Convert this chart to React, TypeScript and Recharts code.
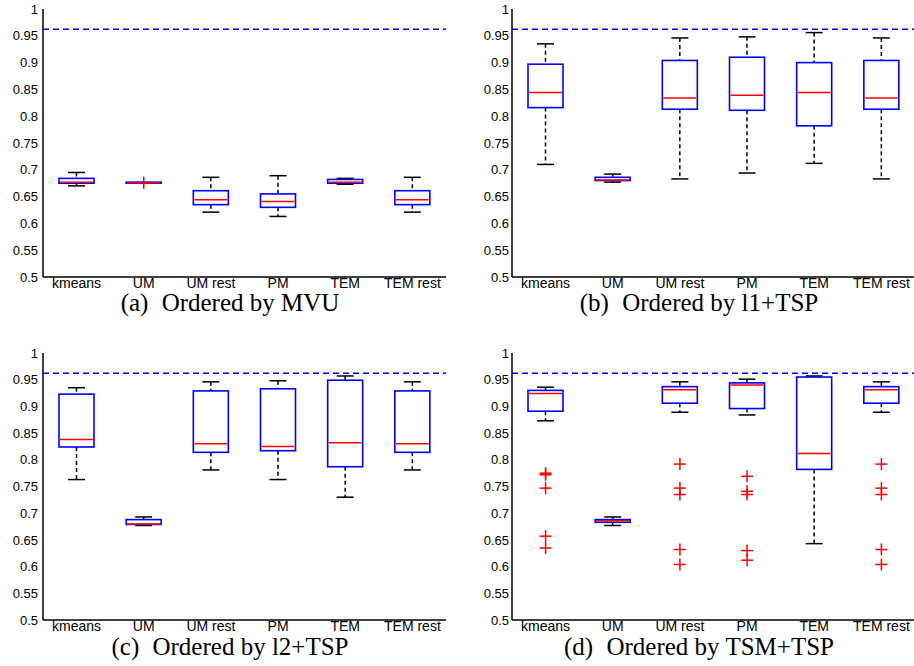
import { ComposedChart, Bar, Scatter, XAxis, YAxis, ReferenceLine } from 'recharts';

const categories = ['kmeans', 'UM', 'UM rest', 'PM', 'TEM', 'TEM rest'];
const yTicks = [0.5, 0.55, 0.6, 0.65, 0.7, 0.75, 0.8, 0.85, 0.9, 0.95, 1];
const reference = 0.962;

// (a) Ordered by MVU
const mvuLow = [0.670, 0.675, 0.621, 0.613, 0.673, 0.621];
const mvuQ1 = [0.675, 0.675, 0.635, 0.630, 0.675, 0.635];
const mvuMed = [0.677, 0.676, 0.644, 0.641, 0.677, 0.644];
const mvuQ3 = [0.684, 0.677, 0.661, 0.655, 0.682, 0.661];
const mvuHigh = [0.695, 0.677, 0.686, 0.689, 0.684, 0.686];
const mvuOutliers = [[], [0.676], [], [], [], []];

// (b) Ordered by l1+TSP
const l1Low = [0.710, 0.677, 0.683, 0.694, 0.712, 0.683];
const l1Q1 = [0.816, 0.680, 0.813, 0.811, 0.782, 0.813];
const l1Med = [0.844, 0.681, 0.834, 0.839, 0.844, 0.834];
const l1Q3 = [0.897, 0.686, 0.904, 0.910, 0.900, 0.904];
const l1High = [0.935, 0.692, 0.946, 0.948, 0.956, 0.946];
const l1Outliers = [[], [], [], [], [], []];

// (c) Ordered by l2+TSP
const l2Low = [0.763, 0.677, 0.781, 0.763, 0.730, 0.781];
const l2Q1 = [0.824, 0.679, 0.814, 0.817, 0.787, 0.814];
const l2Med = [0.838, 0.680, 0.830, 0.825, 0.832, 0.830];
const l2Q3 = [0.923, 0.688, 0.929, 0.933, 0.949, 0.929];
const l2High = [0.935, 0.693, 0.946, 0.948, 0.957, 0.946];
const l2Outliers = [[], [], [], [], [], []];

// (d) Ordered by TSM+TSP
const tsmLow = [0.873, 0.677, 0.889, 0.884, 0.643, 0.889];
const tsmQ1 = [0.891, 0.683, 0.906, 0.896, 0.782, 0.906];
const tsmMed = [0.924, 0.686, 0.931, 0.940, 0.812, 0.931];
const tsmQ3 = [0.930, 0.688, 0.937, 0.944, 0.955, 0.937];
const tsmHigh = [0.936, 0.693, 0.946, 0.951, 0.957, 0.946];
const tsmOutliers = [
  [0.775, 0.772, 0.747, 0.657, 0.635],
  [],
  [0.792, 0.747, 0.735, 0.632, 0.604],
  [0.769, 0.741, 0.735, 0.630, 0.612],
  [],
  [0.792, 0.747, 0.735, 0.632, 0.604],
];

const BLUE = '#0000ff';
const RED = '#ff0000';
const SLOTS = [0, 1, 2, 3, 4];

function buildRows(low: number[], q1: number[], med: number[], q3: number[], high: number[], outliers: number[][]) {
  return categories.map((name, i) => {
    const row: any = { name, low: low[i], q1: q1[i], med: med[i], q3: q3[i], high: high[i], range: [low[i], high[i]] };
    SLOTS.forEach((s) => {
      row[`o${s}`] = outliers[i][s] ?? null;
    });
    return row;
  });
}

function BoxShape(props: any) {
  const { x, y, width, height, payload } = props;
  if (!payload || height == null) return <g />;
  const { low, q1, med, q3, high } = payload;
  const top = Math.min(y, y + height);
  const k = Math.abs(height) / (high - low);
  const py = (v: number) => top + (high - v) * k;
  const cx = x + width / 2;
  const cap = 8.5;
  return (
    <g>
      <line x1={cx} x2={cx} y1={py(high)} y2={py(q3)} stroke="#000" strokeWidth={1.5} strokeDasharray="4 3" />
      <line x1={cx} x2={cx} y1={py(q1)} y2={py(low)} stroke="#000" strokeWidth={1.5} strokeDasharray="4 3" />
      {high > q3 && <line x1={cx - cap} x2={cx + cap} y1={py(high)} y2={py(high)} stroke="#000" strokeWidth={1.5} />}
      {low < q1 && <line x1={cx - cap} x2={cx + cap} y1={py(low)} y2={py(low)} stroke="#000" strokeWidth={1.5} />}
      <rect x={x} y={py(q3)} width={width} height={Math.max(py(q1) - py(q3), 0.5)} fill="none" stroke={BLUE} strokeWidth={1.6} />
      <line x1={x + 1} x2={x + width - 1} y1={py(med)} y2={py(med)} stroke={RED} strokeWidth={1.5} />
    </g>
  );
}

function makePlus(slot: number) {
  return (props: any) => {
    const { cx, cy, payload } = props;
    if (!payload || payload[`o${slot}`] == null || cx == null || cy == null || isNaN(cy)) return <g />;
    return (
      <g stroke={RED} strokeWidth={1.5}>
        <line x1={cx - 6} x2={cx + 6} y1={cy} y2={cy} />
        <line x1={cx} x2={cx} y1={cy - 6} y2={cy + 6} />
      </g>
    );
  };
}

const panels = [
  {
    rows: buildRows(mvuLow, mvuQ1, mvuMed, mvuQ3, mvuHigh, mvuOutliers),
    label: '(a)', title: 'Ordered by MVU',
    left: 0, top: 0, width: 457, margin: { top: 9, right: 11, bottom: 36, left: 0 }, yWidth: 43, yGap: 5, capX: 230, capY: 311,
  },
  {
    rows: buildRows(l1Low, l1Q1, l1Med, l1Q3, l1High, l1Outliers),
    label: '(b)', title: 'Ordered by l1+TSP',
    left: 457, top: 0, width: 458, margin: { top: 9, right: 0, bottom: 36, left: 0 }, yWidth: 55, yGap: 3, capX: 242, capY: 311,
  },
  {
    rows: buildRows(l2Low, l2Q1, l2Med, l2Q3, l2High, l2Outliers),
    label: '(c)', title: 'Ordered by l2+TSP',
    left: 0, top: 333, width: 457, margin: { top: 20, right: 11, bottom: 26, left: 0 }, yWidth: 43, yGap: 5, capX: 230, capY: 322,
  },
  {
    rows: buildRows(tsmLow, tsmQ1, tsmMed, tsmQ3, tsmHigh, tsmOutliers),
    label: '(d)', title: 'Ordered by TSM+TSP',
    left: 457, top: 333, width: 458, margin: { top: 20, right: 0, bottom: 26, left: 0 }, yWidth: 55, yGap: 3, capX: 242, capY: 322,
  },
];

const tickFont = { fontFamily: '"Liberation Sans", Arial, sans-serif', fill: '#000' };

export default function App() {
  return (
    <div style={{ position: 'absolute', left: 0, top: 0, width: 914, height: 666, overflow: 'hidden', background: '#fff' }}>
      {panels.map((p) => (
        <div key={p.label} style={{ position: 'absolute', left: p.left, top: p.top, width: p.width, height: 333 }}>
          <ComposedChart width={p.width} height={333} data={p.rows} margin={p.margin}>
            <XAxis
              dataKey="name"
              type="category"
              interval={0}
              height={20}
              tickSize={0}
              tickMargin={1}
              tickLine={false}
              axisLine={{ stroke: '#000', strokeWidth: 1.5 }}
              tick={{ ...tickFont, fontSize: 14 }}
            />
            <XAxis xAxisId="top" dataKey="name" orientation="top" height={0} tick={false} tickLine={false} axisLine={{ stroke: '#000', strokeWidth: 1.5 }} />
            <YAxis
              yAxisId="l"
              type="number"
              domain={[0.5, 1]}
              ticks={yTicks}
              width={p.yWidth}
              tickSize={0}
              tickMargin={p.yGap}
              tickLine={false}
              axisLine={{ stroke: '#000', strokeWidth: 1.5 }}
              tick={{ ...tickFont, fontSize: 13 }}
            />
            <YAxis
              yAxisId="r"
              type="number"
              orientation="right"
              mirror
              domain={[0.5, 1]}
              ticks={yTicks}
              width={0}
              tickSize={5}
              tick={false}
              tickLine={{ stroke: '#000', strokeWidth: 1 }}
              axisLine={{ stroke: '#000', strokeWidth: 1.5 }}
            />
            <ReferenceLine yAxisId="l" y={reference} stroke={BLUE} strokeWidth={1.5} strokeDasharray="6 4" />
            <Bar yAxisId="l" dataKey="range" barSize={35} shape={BoxShape} isAnimationActive={false} />
            {SLOTS.map((s) => (
              <Scatter key={s} yAxisId="l" dataKey={`o${s}`} shape={makePlus(s)} isAnimationActive={false} />
            ))}
          </ComposedChart>
          <svg width={p.width} height={333} style={{ position: 'absolute', left: 0, top: 0, pointerEvents: 'none' }}>
            <text x={p.capX} y={p.capY} textAnchor="middle" fontFamily='"Liberation Serif", "Times New Roman", serif' fontSize={25} fill="#000">
              <tspan>{p.label}</tspan>
              <tspan dx={7}>{' ' + p.title}</tspan>
            </text>
          </svg>
        </div>
      ))}
    </div>
  );
}
